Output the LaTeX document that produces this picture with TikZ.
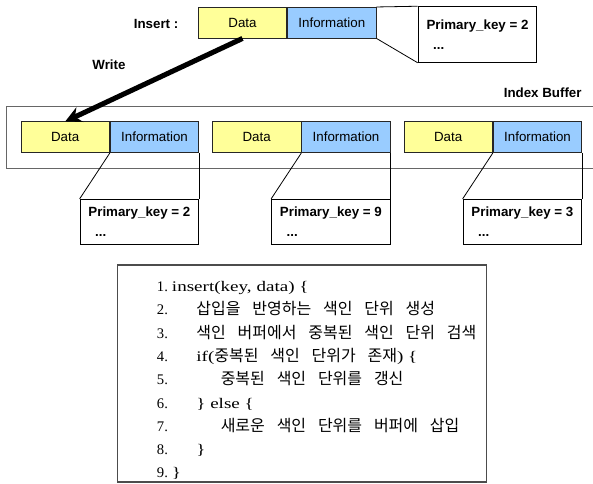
\documentclass[tikz,border=0pt]{standalone}
\usepackage{fontspec}
\setmainfont{Liberation Sans}
\newfontfamily\codefont[FakeStretch=1.3]{Liberation Serif}
\newfontfamily\numfont{Liberation Serif}
\newfontfamily\krfont[WordSpace=3.3]{Noto Sans CJK KR}
\newcommand\kr[1]{{\krfont\fontsize{12pt}{12pt}\selectfont#1}}
\usetikzlibrary{arrows.meta,positioning}
\definecolor{datayellow}{RGB}{255,255,153}
\definecolor{infoblue}{RGB}{153,204,255}
\tikzset{
    buffer diagram/.style = {x=0.75pt, y=-0.75pt,
                             font=\fontsize{10pt}{12pt}\selectfont},
    cell/.style        = {draw=black!85, line width=0.6pt, inner sep=0pt,
                          minimum width=66.4pt, minimum height=23pt},
    datacell/.style    = {cell, fill=datayellow},
    infocell/.style    = {cell, fill=infoblue},
    keybox/.style      = {draw, line width=0.7pt, fill=white, align=left,
                          inner sep=0pt, minimum width=89pt,
                          font=\fontsize{10pt}{14.8pt}\selectfont\bfseries},
    tag/.style         = {font=\fontsize{10pt}{12pt}\selectfont\bfseries},
    link/.style        = {line width=0.6pt},
    write arrow/.style = {line width=3.8pt, -{Stealth[length=12pt,width=12pt]}},
    codebox/.style     = {draw=black!70, line width=0.9pt, inner sep=0pt},
    codeline/.style    = {anchor=base west, inner sep=0pt,
                          font=\fontsize{11pt}{12pt}\codefont},
    codenum/.style     = {codeline, font=\fontsize{11pt}{12pt}\numfont}
}

\begin{document}
\begin{tikzpicture}[buffer diagram]
\useasboundingbox (0,0) rectangle (593,483);

\node[tag,anchor=east] (insert) at (183,24) {Insert :};
\node[datacell] (newdata) at (242.5,22.7) {Data};
\node[infocell,anchor=west] (newinfo) at (newdata.east) {Information};
\node[keybox,minimum height=41.7pt] (newkey) at (477.5,34.5)
    {Primary\_key = 2\\\hspace*{5pt}...};
\draw[link] (newinfo.north east) -- (newkey.north west);
\draw[link] (newinfo.south east) -- (newkey.south west);

\draw[line width=1.1pt,draw=black!60] (593,106.7) -| (6.7,168.3) -- (593,168.3);
\node[tag,anchor=east] (buffer) at (586.3,92.3) {Index Buffer};

\foreach \i/\x/\key in {1/65.2/2,2/256.7/9,3/448.2/3} {
    \node[datacell] (data\i) at (\x,137.2) {Data};
    \node[infocell,anchor=west] (info\i) at (data\i.east) {Information};
    \node[keybox,minimum height=33.75pt,anchor=north east] (key\i)
        at ([yshift=-34.5pt]info\i.south east) {Primary\_key = \key\\\hspace*{5pt}...};
    \draw[link] (data\i.south east) -- (key\i.north west);
    \draw[link] (info\i.south east) -- (key\i.north east);
}

\draw[write arrow] (newdata.south) -- (data1.north);
\node[tag] (write) at (109,65) {Write};

\node[codebox,minimum width=277pt,minimum height=162.75pt] (code) at (302,373.5) {};
\foreach \n/\lvl/\txt in {1/0/{insert(key, data) \{},
                          2/1/{\kr{삽입을 반영하는 색인 단위 생성}},
                          3/1/{\kr{색인 버퍼에서 중복된 색인 단위 검색}},
                          4/1/{if(\kr{중복된 색인 단위가 존재}) \{},
                          5/2/{\kr{중복된 색인 단위를 갱신}},
                          6/1/{\} else \{},
                          7/2/{\kr{새로운 색인 단위를 버퍼에 삽입}},
                          8/1/{\}},
                          9/0/{\}}} {
    \node[codenum] (num\n) at (156.7,{291.5+23.3*(\n-1)}) {\n.};
    \node[codeline] (line\n) at ({171.7+24.4*\lvl},{291.5+23.3*(\n-1)}) {\txt};
}
\end{tikzpicture}
\end{document}
